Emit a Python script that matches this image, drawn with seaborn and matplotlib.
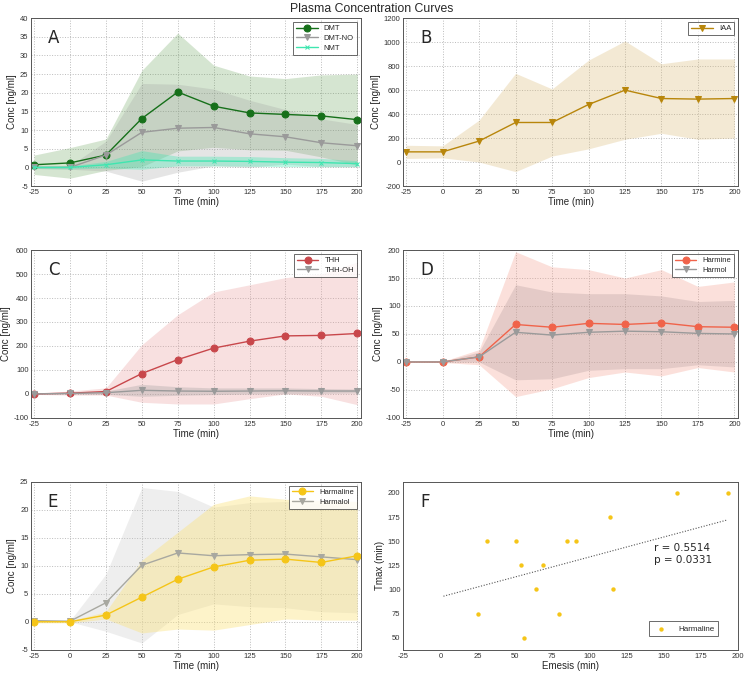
import matplotlib.pyplot as plt
import numpy as np
import seaborn as sns

sns.set_theme(style="white")
plt.rcParams["font.family"] = ["Liberation Sans", "DejaVu Sans"]
plt.rcParams["axes.unicode_minus"] = False

time = [-25, 0, 25, 50, 75, 100, 125, 150, 175, 200]

# panel A
dmt = [0.7, 1.2, 3.3, 13.1, 20.2, 16.4, 14.6, 14.2, 13.8, 12.8]
dmt_lo = [-1.9, -2.9, -0.8, 0.2, 4.4, 5.4, 4.7, 4.6, 2.8, 0.6]
dmt_hi = [3.3, 5.3, 7.6, 26.0, 36.0, 27.4, 24.5, 23.8, 24.8, 25.0]
dmtno = [0.0, 0.0, 3.3, 9.4, 10.5, 10.7, 9.0, 8.2, 6.6, 5.8]
dmtno_lo = [-0.3, -0.5, -1.0, -3.7, -1.3, 0.4, 0.0, 0.9, 0.2, 0.1]
dmtno_hi = [0.3, 0.5, 7.0, 22.5, 22.3, 21.0, 18.0, 15.5, 13.0, 11.5]
nmt = [0.0, 0.0, 0.7, 2.0, 1.7, 1.7, 1.6, 1.4, 1.3, 1.0]
nmt_lo = [-0.3, -0.4, -0.2, -0.5, 0.4, 0.4, 0.3, 0.2, 0.2, 0.2]
nmt_hi = [0.3, 0.4, 1.6, 4.5, 3.0, 3.0, 2.9, 2.6, 2.4, 1.8]

# panel B
iaa = [85, 85, 175, 330, 330, 480, 600, 530, 525, 530]
iaa_lo = [30, 35, 0, -80, 50, 110, 190, 240, 190, 200]
iaa_hi = [140, 135, 350, 740, 610, 850, 1010, 820, 860, 860]

# panel C
thh = [0, 3, 10, 85, 143, 191, 220, 242, 244, 252]
thh_lo = [-2, -5, -5, -35, -42, -42, -20, 0, -10, -45]
thh_hi = [2, 12, 25, 205, 330, 425, 455, 485, 500, 550]
thhoh = [0, 2, 5, 15, 12, 11, 12, 13, 12, 12]
thhoh_lo = [-1, -1, -2, -10, -6, -3, 0, 1, 2, 4]
thhoh_hi = [1, 5, 12, 40, 30, 25, 25, 25, 22, 20]

# panel D
harmine = [0, 0, 9, 67, 62, 69, 67, 70, 63, 62]
harmine_lo = [-1, -1, -5, -62, -48, -28, -18, -25, -10, -18]
harmine_hi = [1, 1, 22, 197, 170, 165, 150, 165, 135, 143]
harmol = [0, 0, 9, 53, 48, 53, 55, 54, 51, 50]
harmol_lo = [-0.5, -0.5, 0, -32, -30, -15, -12, -12, -5, -9]
harmol_hi = [0.5, 0.5, 18, 138, 125, 122, 122, 118, 108, 110]

# panel E
harmaline = [0.0, 0.0, 1.2, 4.4, 7.6, 9.8, 11.0, 11.2, 10.6, 11.8]
harmaline_lo = [-0.2, -0.2, 0.5, -2.0, -1.3, -1.5, -0.5, 0.5, 0.3, 0.3]
harmaline_hi = [0.2, 0.2, 1.8, 11.0, 16.0, 21.0, 22.5, 21.9, 21.7, 21.5]
harmalol = [0.2, 0.1, 3.4, 10.1, 12.3, 11.8, 12.0, 12.1, 11.6, 11.1]
harmalol_lo = [0.0, 0.0, -1.7, -3.8, 1.3, 3.2, 2.7, 2.5, 1.8, 1.6]
harmalol_hi = [0.3, 0.2, 8.5, 24.0, 23.3, 20.5, 21.3, 21.5, 21.0, 20.5]

# panel F
emesis = [25, 31, 51, 54, 56, 64, 69, 80, 85, 91, 114, 116, 159, 193]
tmax = [75, 150, 150, 125, 50, 100, 125, 75, 150, 150, 175, 100, 200, 200]
fit_slope, fit_intercept = 0.414, 92.2
fit_x = [2, 193]

GREY = "#9a9a9a"


def style_axes(ax, ylim, yticks, letter, xlim=(-27, 202.5), xticks=time):
    ax.set_xlim(*xlim)
    ax.set_ylim(*ylim)
    ax.set_xticks(xticks)
    ax.set_yticks(yticks)
    ax.grid(True, linestyle=":", color="#bbbbbb", linewidth=0.7)
    for s in ax.spines.values():
        s.set_color("#555555")
        s.set_linewidth(0.7)
    ax.tick_params(labelsize=5.5, direction="in", length=2, width=0.5,
                   colors="#333333", pad=2)
    ax.set_xlabel("Time (min)", fontsize=7, labelpad=1)
    ax.set_ylabel("Conc [ng/ml]", fontsize=7, labelpad=2)
    ax.text(0.05, 0.88, letter, transform=ax.transAxes, fontsize=12,
            family=["DejaVu Sans"], va="center")


def series(ax, mean, lo, hi, color, band, alpha, marker, ms, label):
    ax.fill_between(time, lo, hi, color=band, alpha=alpha, linewidth=0)
    sns.lineplot(x=time, y=mean, ax=ax, color=color, marker=marker,
                 markersize=ms, markeredgecolor=color, linewidth=1.0,
                 label=label)


def legend(ax, order=None, **kw):
    h, lab = ax.get_legend_handles_labels()
    if order:
        h = [h[i] for i in order]
        lab = [lab[i] for i in order]
    opts = dict(loc="upper right", fontsize=5.5, frameon=True,
                fancybox=False, borderpad=0.4, handlelength=2.8,
                labelspacing=0.3, borderaxespad=0.5)
    opts.update(kw)
    leg = ax.legend(h, lab, **opts)
    leg.get_frame().set_edgecolor("#444444")
    leg.get_frame().set_linewidth(0.7)


fig = plt.figure(figsize=(7.44, 6.74), dpi=100)
L1, W1 = 0.042, 0.443
L2, W2 = 0.542, 0.450
B = [0.724, 0.380, 0.036]
H = 0.249

axA = fig.add_axes([L1, B[0], W1, H])
series(axA, dmt, dmt_lo, dmt_hi, "#16701a", "#5a9a4a", 0.25, "o", 5, "DMT")
series(axA, dmtno, dmtno_lo, dmtno_hi, GREY, "#9a9a9a", 0.25, "v", 3.8, "DMT-NO")
series(axA, nmt, nmt_lo, nmt_hi, "#3fe6b0", "#3fe6b0", 0.35, "x", 2.5, "NMT")
style_axes(axA, (-5, 40), range(-5, 41, 5), "A")
legend(axA)

axB = fig.add_axes([L2, B[0], W2, H])
series(axB, iaa, iaa_lo, iaa_hi, "#b8860b", "#d9b873", 0.3, "v", 4.2, "IAA")
style_axes(axB, (-200, 1200), range(-200, 1201, 200), "B")
legend(axB)

axC = fig.add_axes([L1, B[1], W1, H])
series(axC, thh, thh_lo, thh_hi, "#c8474b", "#e89a9a", 0.3, "o", 5, "THH")
series(axC, thhoh, thhoh_lo, thhoh_hi, GREY, "#9a9a9a", 0.3, "v", 3.8, "THH-OH")
style_axes(axC, (-100, 600), range(-100, 601, 100), "C")
legend(axC)

axD = fig.add_axes([L2, B[1], W2, H])
series(axD, harmine, harmine_lo, harmine_hi, "#f0634a", "#f59a88", 0.3, "o", 5, "Harmine")
series(axD, harmol, harmol_lo, harmol_hi, GREY, "#b09a9a", 0.3, "v", 3.8, "Harmol")
style_axes(axD, (-100, 200), range(-100, 201, 50), "D")
legend(axD)

axE = fig.add_axes([L1, B[2], W1, H])
series(axE, harmalol, harmalol_lo, harmalol_hi, "#a8a8a0", "#c8c8c8", 0.3, "v", 3.8, "Harmalol")
series(axE, harmaline, harmaline_lo, harmaline_hi, "#f5c518", "#fbe27a", 0.4, "o", 5, "Harmaline")
style_axes(axE, (-5, 25), range(-5, 26, 5), "E")
legend(axE, order=[1, 0])

axF = fig.add_axes([L2, B[2], W2, H])
sns.scatterplot(x=emesis, y=tmax, ax=axF, color="#f5c518", s=10,
                linewidth=0, label="Harmaline")
xf = np.array(fit_x)
axF.plot(xf, fit_slope * xf + fit_intercept, linestyle=(0, (1, 1.5)),
         color="#555555", linewidth=0.8)
style_axes(axF, (37.6, 211.4), range(50, 201, 25), "F", xlim=(-25, 200),
           xticks=range(-25, 201, 25))
axF.grid(False)
axF.set_xlabel("Emesis (min)", fontsize=7, labelpad=1)
axF.set_ylabel("Tmax (min)", fontsize=7, labelpad=2)
axF.text(0.75, 0.57, "r = 0.5514\np = 0.0331", transform=axF.transAxes,
         fontsize=7.5, family=["DejaVu Sans"], va="center", linespacing=1.25)
legend(axF, loc="lower right", fontsize=5.8, borderpad=0.45,
       bbox_to_anchor=(0.94, 0.08), borderaxespad=0, handlelength=2.2,
       handletextpad=1.0)

fig.text(0.5, 0.986, "Plasma Concentration Curves", ha="center",
         va="center", fontsize=8.8)

fig.savefig("out.png", dpi=100)
